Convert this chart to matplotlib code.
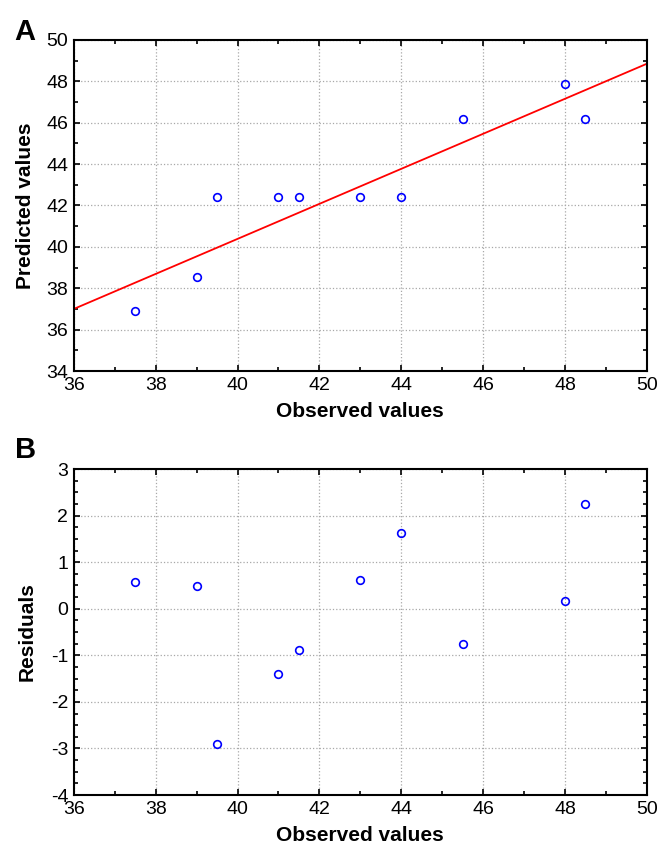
import numpy as np
import matplotlib.pyplot as plt
from matplotlib.ticker import MultipleLocator

plt.rcParams['font.family'] = ['Liberation Sans', 'DejaVu Sans']
plt.rcParams['axes.unicode_minus'] = False

observed = [37.5, 39.0, 39.5, 41.0, 41.5, 43.0, 44.0, 45.5, 48.0, 48.5]
predicted = [36.9, 38.55, 42.4, 42.4, 42.4, 42.4, 42.4, 46.2, 47.85, 46.2]
residuals = [0.57, 0.48, -2.9, -1.4, -0.88, 0.62, 1.62, -0.75, 0.17, 2.25]

# fitted line read at the x-axis limits
fit_x = [36, 50]
fit_y = [37.0, 48.85]

fig = plt.figure(figsize=(6.71, 8.5), dpi=100)
ax1 = fig.add_axes([0.110, 0.5635, 0.854, 0.3895])
ax2 = fig.add_axes([0.110, 0.0647, 0.854, 0.3835])


def style(ax, ymajor, yminor):
    ax.set_xlim(36, 50)
    ax.xaxis.set_major_locator(MultipleLocator(2))
    ax.xaxis.set_minor_locator(MultipleLocator(1))
    ax.yaxis.set_major_locator(MultipleLocator(ymajor))
    ax.yaxis.set_minor_locator(MultipleLocator(yminor))
    ax.tick_params(which='both', direction='in', top=True, right=True,
                   labelsize=14, width=1.2, pad=4)
    ax.tick_params(which='major', length=4)
    ax.tick_params(which='minor', length=3)
    ax.grid(True, which='major', color='#a8a8a8', linestyle=':', linewidth=0.9)
    for s in ax.spines.values():
        s.set_linewidth(1.5)
    ax.set_axisbelow(True)


# panel A
ax1.plot(fit_x, fit_y, color='red', linewidth=1.3)
ax1.plot(observed, predicted, 'o', markersize=5.5, markerfacecolor='none',
         markeredgecolor='blue', markeredgewidth=1.2, linestyle='none')
style(ax1, 2, 1)
ax1.set_ylim(34, 50)
ax1.set_xlabel('Observed values', fontsize=15, fontweight='bold', labelpad=6)
ax1.set_ylabel('Predicted values', fontsize=15, fontweight='bold', labelpad=8)

# panel B
ax2.plot(observed, residuals, 'o', markersize=5.5, markerfacecolor='none',
         markeredgecolor='blue', markeredgewidth=1.2, linestyle='none')
style(ax2, 1, 0.25)
ax2.set_ylim(-4, 3)
ax2.set_xlabel('Observed values', fontsize=15, fontweight='bold', labelpad=6)
ax2.set_ylabel('Residuals', fontsize=15, fontweight='bold', labelpad=10)

fig.text(0.022, 0.962, 'A', fontsize=21, fontweight='bold', va='center')
fig.text(0.022, 0.470, 'B', fontsize=21, fontweight='bold', va='center')

fig.savefig('out.png', dpi=100)
